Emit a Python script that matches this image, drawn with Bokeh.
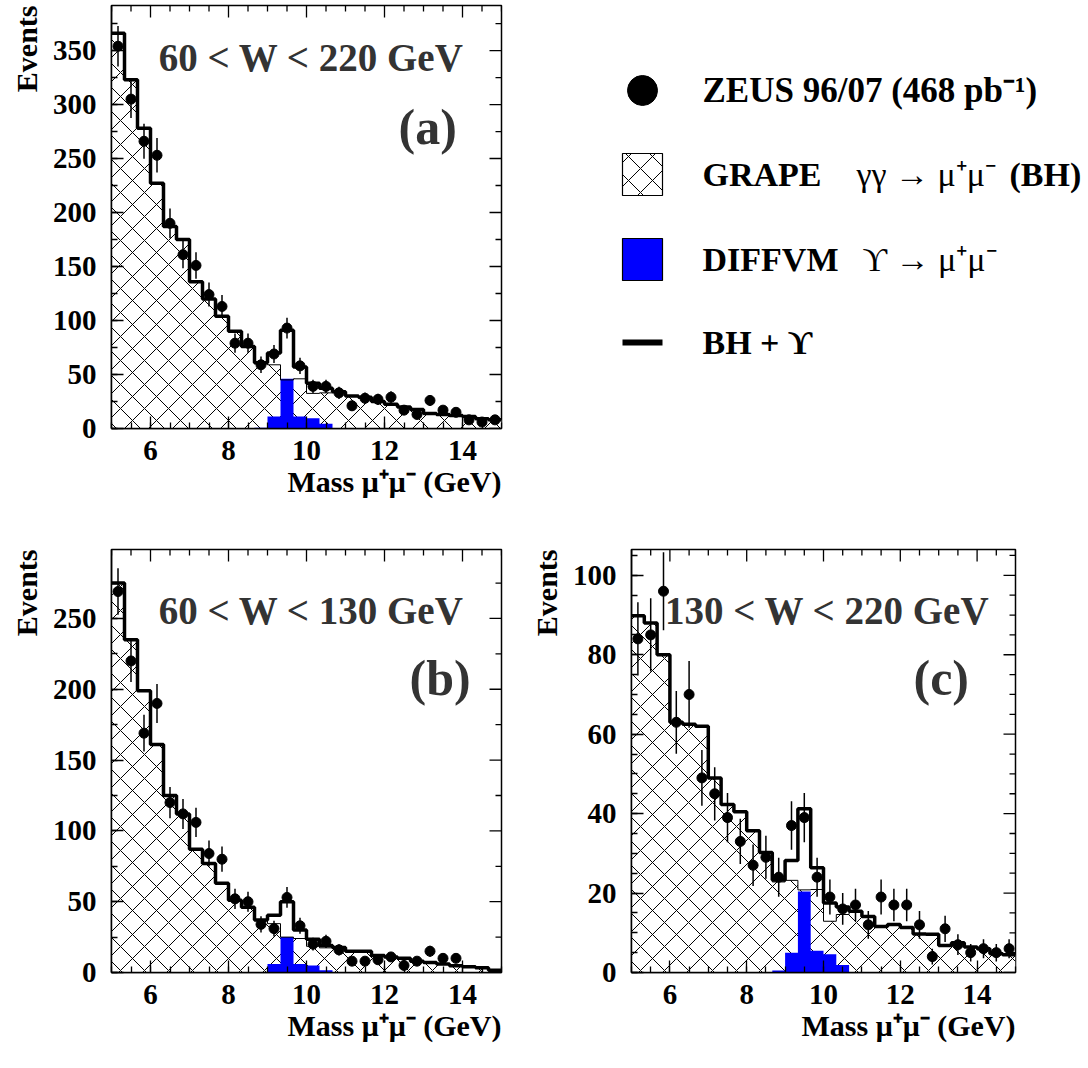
import numpy as np
from bokeh.plotting import figure
from bokeh.models import Range1d, SingleIntervalTicker, Label, Title
from bokeh.layouts import column, row
from bokeh.embed import file_html
from bokeh.resources import INLINE

# ---------------- binning (30 bins of 1/3 GeV from 5 to 15 GeV) ----------------
mass_min, mass_max, n_bins = 5.0, 15.0, 30
bin_edges = np.linspace(mass_min, mass_max, n_bins + 1)
bin_centers = 0.5 * (bin_edges[:-1] + bin_edges[1:])

# ---------------- panel (a): 60 < W < 220 GeV ----------------
zeus_a = [354, 305, 266, 253, 190, 161, 151, 124, 113, 79, 79, 59, 69, 93, 58,
          39, 39, 33, 21, 28, 27, 29, 17, 13, 26, 17, 15, 8, 6, 8]
zeus_a_err = [18.8, 17.5, 16.3, 15.9, 13.8, 12.7, 12.3, 11.1, 10.6, 8.9, 8.9, 7.7, 8.3, 9.6, 7.6,
              6.2, 6.2, 5.7, 4.6, 5.3, 5.2, 5.4, 4.1, 3.6, 5.1, 4.1, 3.9, 2.8, 2.4, 2.8]
grape_a = [366, 323, 278, 227, 187, 175, 136, 120, 104, 90, 76, 60, 59, 45, 46,
           32.5, 33, 34, 30, 29, 25, 22.5, 20, 17.6, 14, 13, 12, 11, 9, 8]
diffvm_a = [0, 0, 0, 0, 0, 0, 0, 0, 0, 0, 0, 0.8, 11, 46, 11,
            9.5, 4.3, 0, 0, 0, 0, 0, 0, 0, 0, 0, 0, 0, 0, 0]

# ---------------- panel (b): 60 < W < 130 GeV ----------------
zeus_b = [269, 220, 169, 190, 120, 112, 106, 84, 80, 52, 50, 34, 31, 53, 33,
          20, 22, 16, 8, 8, 9, 11, 5, 8, 15, 10, 10, None, None, None]
zeus_b_err = [16.4, 14.8, 13.0, 13.8, 11.0, 10.6, 10.3, 9.2, 8.9, 7.2, 7.1, 5.8, 5.6, 7.3, 5.7,
              4.5, 4.7, 4.0, 2.8, 2.8, 3.0, 3.3, 2.2, 2.8, 3.9, 3.2, 3.2, None, None, None]
grape_b = [275, 235, 199, 161, 125, 112, 87, 77, 63, 51, 46, 36.6, 34.5, 25, 24,
           18.5, 17.4, 17.7, 15, 15, 12, 11, 10, 8, 7, 6, 4.7, 4, 3.3, 1.6]
diffvm_b = [0, 0, 0, 0, 0, 0, 0, 0, 0, 0, 0, 0.4, 6, 25, 6,
            5, 1.6, 0, 0, 0, 0, 0, 0, 0, 0, 0, 0, 0, 0, 0]

# ---------------- panel (c): 130 < W < 220 GeV ----------------
zeus_c = [84, 85, 96, 63, 70, 49, 45, 39, 33, 27, 29, 24, 37, 39, 24,
          19, 16, 17, 12, 19, 17, 17, 12, 4, 11, 7, 5, 6, 5, 6]
zeus_c_err = [9.2, 9.2, 9.8, 7.9, 8.4, 7.0, 6.7, 6.2, 5.7, 5.2, 5.4, 4.9, 6.1, 6.2, 4.9,
              4.4, 4.0, 4.1, 3.5, 4.4, 4.1, 4.1, 3.5, 2.0, 3.3, 2.6, 2.2, 2.4, 2.2, 2.4]
grape_c = [89.8, 88, 80, 63, 62.5, 62, 49, 42.3, 40.5, 35.7, 30.2, 22.8, 23.2, 20.8, 20.9,
           12.9, 14.6, 15.4, 14.1, 11.6, 12.1, 11.3, 9.7, 9.6, 6.8, 7.5, 6.4, 6.0, 4.7, 4.5]
diffvm_c = [0, 0, 0, 0, 0, 0, 0, 0, 0, 0, 0, 0.5, 5.0, 20.4, 5.5,
            4.6, 1.9, 0, 0, 0, 0, 0, 0, 0, 0, 0, 0, 0, 0, 0]

w_labels = ["60 < W < 220 GeV", "60 < W < 130 GeV", "130 < W < 220 GeV"]
panel_tags = ["(a)", "(b)", "(c)"]
x_title = "Mass \u03bc\u207a\u03bc\u207b (GeV)"
y_title = "Events"

TICK_FONT = "Liberation Serif"
BLUE = "#0000ff"
HATCH = dict(hatch_pattern="diagonal_cross", hatch_color="black", hatch_scale=24, hatch_weight=1)


def step_polygon(values):
    xs, ys = [], []
    for i, v in enumerate(values):
        xs += [bin_edges[i], bin_edges[i + 1]]
        ys += [v, v]
    xs += [bin_edges[-1], bin_edges[0]]
    ys += [0, 0]
    return xs, ys


def tick_positions(lo, hi, step, nminor):
    major = [v for v in np.arange(lo, hi + 1e-9, step)]
    sub = step / nminor
    minor = [v for v in np.arange(lo, hi + 1e-9, sub)
             if min(abs(v - m) for m in major) > 1e-6]
    return major, minor


def make_panel(zeus, err, bh, ups, ymax, ystep, yminor, wlabel, w_x, tag, w_base, tag_x, tag_base,
               width, height, b_left, b_right, b_top, b_bottom):
    p = figure(width=width, height=height,
               x_range=Range1d(mass_min, mass_max), y_range=Range1d(0, ymax),
               output_backend="svg", toolbar_location=None,
               min_border_left=b_left, min_border_right=b_right,
               min_border_top=b_top, min_border_bottom=b_bottom)
    p.xgrid.visible = False
    p.ygrid.visible = False
    p.background_fill_color = "white"
    p.border_fill_color = "white"
    p.outline_line_color = "black"
    p.outline_line_width = 1.5

    xt = SingleIntervalTicker(interval=2, num_minor_ticks=4)
    yt = SingleIntervalTicker(interval=ystep, num_minor_ticks=yminor)
    bottom_ax = p.below[0]
    left_ax = p.left[0]
    bottom_ax.ticker = xt
    left_ax.ticker = yt
    for ax in [bottom_ax, left_ax]:
        ax.axis_line_color = "black"
        ax.axis_line_width = 1.5
        ax.major_tick_line_color = "black"
        ax.minor_tick_line_color = "black"
        ax.major_tick_line_width = 1.3
        ax.minor_tick_line_width = 1.3
        ax.major_tick_out = 0
        ax.minor_tick_out = 0
        ax.major_tick_in = 12
        ax.minor_tick_in = 6
        ax.major_label_text_font = TICK_FONT
        ax.major_label_text_font_style = "bold"
        ax.major_label_text_font_size = "29px"
        ax.major_label_text_color = "black"
    bottom_ax.major_label_standoff = 12
    left_ax.major_label_standoff = 15

    # GRAPE (Bethe-Heitler) hatched histogram
    hx, hy = step_polygon(bh)
    p.patch(hx, hy, fill_color="white", line_color=None, **HATCH)
    # DIFFVM Upsilon histogram
    ux, uy = step_polygon(ups)
    p.patch(ux, uy, fill_color=BLUE, line_color=None)
    # thin GRAPE outline
    p.step(x=list(bin_edges), y=list(bh) + [bh[-1]], mode="after",
           line_color="black", line_width=1)
    # BH + Upsilon
    tot = [b + u for b, u in zip(bh, ups)]
    p.step(x=list(bin_edges), y=tot + [tot[-1]], mode="after",
           line_color="black", line_width=3.5)

    # mirrored ticks on the top and right frame edges
    xmaj, _ = tick_positions(6, 14, 2, 4)
    xmin = [v for v in np.arange(mass_min, mass_max + 1e-9, 0.5)
            if min(abs(v - m) for m in xmaj) > 1e-6]
    ymaj, ymin = tick_positions(0, ymax, ystep, yminor)
    tick_style = dict(line_color="black", line_width=1.3, length_units="screen")
    p.ray(x=xmaj, y=[ymax] * len(xmaj), length=12, angle=-np.pi / 2, **tick_style)
    p.ray(x=xmin, y=[ymax] * len(xmin), length=6, angle=-np.pi / 2, **tick_style)
    p.ray(x=[mass_max] * len(ymaj), y=ymaj, length=12, angle=np.pi, **tick_style)
    p.ray(x=[mass_max] * len(ymin), y=ymin, length=6, angle=np.pi, **tick_style)

    # data
    xs = [c for c, v in zip(bin_centers, zeus) if v is not None]
    ys = [v for v in zeus if v is not None]
    es = [e for e in err if e is not None]
    p.segment(x0=xs, y0=[y - e for y, e in zip(ys, es)], x1=xs,
              y1=[y + e for y, e in zip(ys, es)], line_color="black", line_width=1.5)
    p.scatter(xs, ys, size=10, color="black")

    # in-frame texts
    p.add_layout(Label(x=w_x, y=w_base, x_units="screen", y_units="screen",
                       text=wlabel, text_align="center", text_baseline="alphabetic",
                       text_font="Liberation Serif", text_font_style="bold",
                       text_font_size="39px", text_color="#333333"))
    p.add_layout(Label(x=tag_x, y=tag_base, x_units="screen", y_units="screen",
                       text=tag, text_align="left", text_baseline="alphabetic",
                       text_font="Liberation Serif", text_font_style="bold",
                       text_font_size="50px", text_color="#333333"))
    # axis titles
    p.add_layout(Title(text=y_title, align="right", text_font=TICK_FONT,
                       text_font_style="bold", text_font_size="30px",
                       text_color="black", standoff=14), "left")
    p.add_layout(Title(text=x_title, align="right", text_font=TICK_FONT,
                       text_font_style="bold", text_font_size="30px",
                       text_color="black", standoff=0), "below")
    return p


pa = make_panel(zeus_a, zeus_a_err, grape_a, diffvm_a, 391.7, 50, 2, w_labels[0], 200, panel_tags[0],
                371, 287, 302, 520, 538, 108, 19, 5, 110)
pb = make_panel(zeus_b, zeus_b_err, grape_b, diffvm_b, 298.7, 50, 2, w_labels[1], 200, panel_tags[1],
                362, 298, 295, 520, 529, 108, 19, 11, 95)
pc = make_panel(zeus_c, zeus_c_err, grape_c, diffvm_c, 106.5, 20, 4, w_labels[2], 196, panel_tags[2],
                362, 282, 295, 515, 529, 103, 20, 11, 95)

# ---------------- legend panel (frame aligned with panel (a)'s frame) ----------------
LX0, LX1 = 520, 1086          # page x extent of the legend canvas
LY0, LY1 = 5, 428             # page y extent of the (row-aligned) frame
pleg = figure(width=LX1 - LX0, height=538, x_range=Range1d(LX0, LX1),
              y_range=Range1d(LY1, LY0),
              output_backend="svg", toolbar_location=None,
              min_border_left=0, min_border_right=0, min_border_top=5, min_border_bottom=110,
              x_axis_location=None, y_axis_location=None)
pleg.grid.visible = False
pleg.outline_line_color = None
pleg.background_fill_color = "white"
pleg.border_fill_color = "white"

row_y = [90, 174, 259, 342]
sym_x0, sym_x1 = 622, 662
text_x = 702
pleg.scatter([0.5 * (sym_x0 + sym_x1)], [row_y[0]], size=30, color="black")
pleg.quad(left=[sym_x0], right=[sym_x1], top=[row_y[1] - 21], bottom=[row_y[1] + 21],
          fill_color="white", line_color="black", line_width=1.2, **HATCH)
pleg.quad(left=[sym_x0], right=[sym_x1], top=[row_y[2] - 21], bottom=[row_y[2] + 21],
          fill_color=BLUE, line_color="black", line_width=1.2)
pleg.segment(x0=[sym_x0], y0=[row_y[3]], x1=[sym_x1], y1=[row_y[3]],
             line_color="black", line_width=6)


def leg_text(x, y, txt, bold=True, size="34px"):
    pleg.add_layout(Label(x=x, y=y, text=txt, text_align="left", text_baseline="middle",
                          text_font="Liberation Serif",
                          text_font_style="bold" if bold else "normal",
                          text_font_size=size, text_color="black"))


leg_text(text_x, row_y[0], "ZEUS 96/07 (468 pb\u207b\u00b9)", size="35px")
leg_text(text_x, row_y[1], "GRAPE")
leg_text(856, row_y[1], "\u03b3\u03b3 \u2192 \u03bc\u207a\u03bc\u207b", bold=False, size="34px")
leg_text(1009, row_y[1], "(BH)")
leg_text(text_x, row_y[2], "DIFFVM")
leg_text(862, row_y[2], "\u03d2 \u2192 \u03bc\u207a\u03bc\u207b", bold=False, size="34px")
leg_text(text_x, row_y[3], "BH + \u03d2")

layout = column(row(pa, pleg), row(pb, pc))
open("out.html", "w").write(file_html(layout, INLINE))
